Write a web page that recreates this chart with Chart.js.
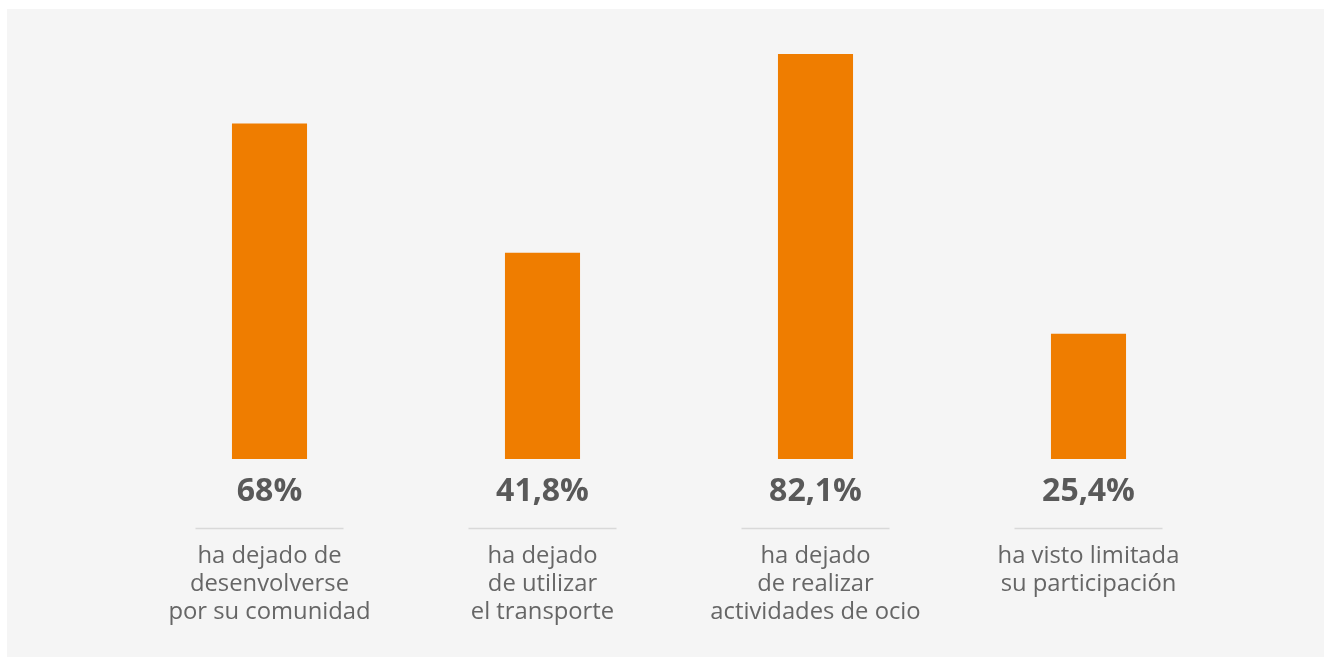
<!DOCTYPE html>
<html>
<head>
<meta charset="utf-8">
<script src="https://cdn.jsdelivr.net/npm/chart.js@4"></script>
<style>
  html, body { margin: 0; padding: 0; background: #ffffff; }
  .chart-wrap { position: relative; width: 1324px; height: 657px; }
  .chart-panel { position: absolute; left: 7px; top: 9px; right: 0; bottom: 0; background: #f5f5f5; }
  .chart-wrap canvas { position: absolute; left: 0; top: 0; }
</style>
</head>
<body>
<div class="chart-wrap">
  <div class="chart-panel"></div>
  <canvas id="chart" width="1324" height="657"></canvas>
</div>
<script>
const categories = [
  ["ha dejado de", "desenvolverse", "por su comunidad"],
  ["ha dejado", "de utilizar", "el transporte"],
  ["ha dejado", "de realizar", "actividades de ocio"],
  ["ha visto limitada", "su participación"]
];
const values = [68, 41.8, 82.1, 25.4];
const valueLabels = ["68%", "41,8%", "82,1%", "25,4%"];

const FONT = "'Open Sans', 'Noto Sans', sans-serif";

// value labels, separator lines and category texts under the bars
const underBarText = {
  id: "underBarText",
  afterDraw(chart) {
    const ctx = chart.ctx;
    const x = chart.scales.x;
    ctx.save();
    ctx.textAlign = "center";
    ctx.textBaseline = "alphabetic";
    categories.forEach((lines, i) => {
      const cx = x.getPixelForValue(i);

      ctx.fillStyle = "#595959";
      ctx.font = "bold 32px " + FONT;
      ctx.fillText(valueLabels[i], cx, 501);

      ctx.strokeStyle = "#d9d9d9";
      ctx.lineWidth = 1.5;
      ctx.beginPath();
      ctx.moveTo(cx - 74, 528.5);
      ctx.lineTo(cx + 74, 528.5);
      ctx.stroke();

      ctx.fillStyle = "#666666";
      ctx.font = "23.8px " + FONT;
      lines.forEach((ln, j) => {
        ctx.fillText(ln, cx, 563 + j * 28);
      });
    });
    ctx.restore();
  }
};

new Chart(document.getElementById("chart"), {
  type: "bar",
  data: {
    labels: categories.map(c => c.join(" ")),
    datasets: [{
      data: values,
      backgroundColor: "#ef7d00",
      borderWidth: 0,
      barPercentage: 0.275,
      categoryPercentage: 1
    }]
  },
  options: {
    responsive: false,
    animation: false,
    layout: { padding: { left: 133, right: 99, top: 54, bottom: 198 } },
    plugins: {
      legend: { display: false },
      tooltip: { enabled: false }
    },
    scales: {
      x: { display: false },
      y: { display: false, min: 0, max: 82.1 }
    }
  },
  plugins: [underBarText]
});
</script>
</body>
</html>
